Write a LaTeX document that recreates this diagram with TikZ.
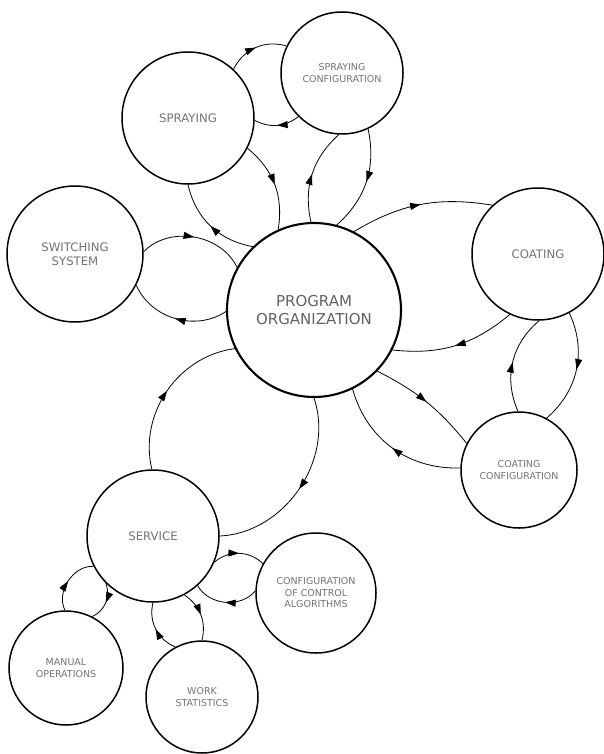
\documentclass[tikz,border=0pt]{standalone}
\usepackage{fontspec}
\setmainfont{DejaVu Sans}
\usetikzlibrary{decorations.markings,arrows.meta}
\begin{document}
\begin{tikzpicture}[x=1pt,y=1pt,
  bub/.style={circle,draw,line width=1.5pt,inner sep=0pt,minimum size=#1,align=center,text=black!55},
  small/.style={font=\fontsize{9.5}{11.5}\selectfont},
  medium/.style={font=\fontsize{11.7}{13.5}\selectfont},
  large/.style={font=\fontsize{15}{18}\selectfont},
  link/.style={line width=0.8pt,postaction={decorate},
    decoration={markings,mark=at position #1 with {\arrow{Triangle[length=10.5pt,width=7pt]}}}},
  link/.default=0.5]
\useasboundingbox (0,0) rectangle (604,-754);
\node[bub=174pt,line width=2.1pt,large,text=black!62] (P) at (314,-310) {PROGRAM\\ORGANIZATION};
\node[bub=132pt,medium] (S) at (188,-118) {SPRAYING};
\node[bub=122pt,small] (SC) at (342,-73) {SPRAYING\\CONFIGURATION};
\node[bub=136pt,medium] (W) at (75,-254) {SWITCHING\\SYSTEM};
\node[bub=132pt,medium] (C) at (538,-254) {COATING};
\node[bub=116pt,small] (CC) at (519,-470) {COATING\\CONFIGURATION};
\node[bub=132pt,medium] (V) at (153,-536) {SERVICE};
\node[bub=120pt,small] (CA) at (316,-593) {CONFIGURATION\\OF CONTROL\\ALGORITHMS};
\node[bub=114pt,small] (M) at (66,-668) {MANUAL\\OPERATIONS};
\node[bub=112pt,small] (WS) at (202,-697) {WORK\\STATISTICS};
% spraying <-> spraying configuration
\draw[link] (S.47) to[bend left=40] (SC.154);
\draw[link] (SC.-135) to[bend left=33] (S.-2);
% spraying <-> program
\draw[link] (S.-27) to[bend left=30] (P.114);
\draw[link] (P.134) to[bend left=33] (S.-90);
% program <-> spraying configuration
\draw[link] (P.92) to[bend left=30] (SC.-93);
\draw[link] (SC.-65) to[bend left=30] (P.75);
% switching <-> program
\draw[link] (W.2) to[bend left=55] (P.151);
\draw[link] (P.181) to[bend left=50] (W.-27);
% program <-> coating
\draw[link] (P.63) to[bend left=20] (C.133);
\draw[link] (C.-115) to[bend left=23] (P.-27);
% coating <-> coating configuration
\draw[link] (CC.91) to[bend left=37] (C.-89);
\draw[link] (C.-62) to[bend left=37] (CC.62);
% program <-> coating configuration
\draw[link] (P.-44) to[bend left=12] (CC.153);
\draw[link] (CC.178) to[bend left=38] (P.-64);
% service <-> program
\draw[link] (V.91) to[bend left=48] (P.206);
\draw[link] (P.-90) to[bend left=53] (V.0);
% service <-> control algorithms
\draw[link] (V.-23) to[bend left=42] (CA.151);
\draw[link] (CA.178) to[bend left=56] (V.-48);
% service <-> manual operations
\draw[link] (M.91) to[bend left=60] (V.207);
\draw[link] (V.-135) to[bend left=44] (M.63);
% service <-> work statistics
\draw[link] (WS.118) to[bend left=41] (V.-90);
\draw[link] (V.-62) to[bend left=35] (WS.90);
\end{tikzpicture}
\end{document}
